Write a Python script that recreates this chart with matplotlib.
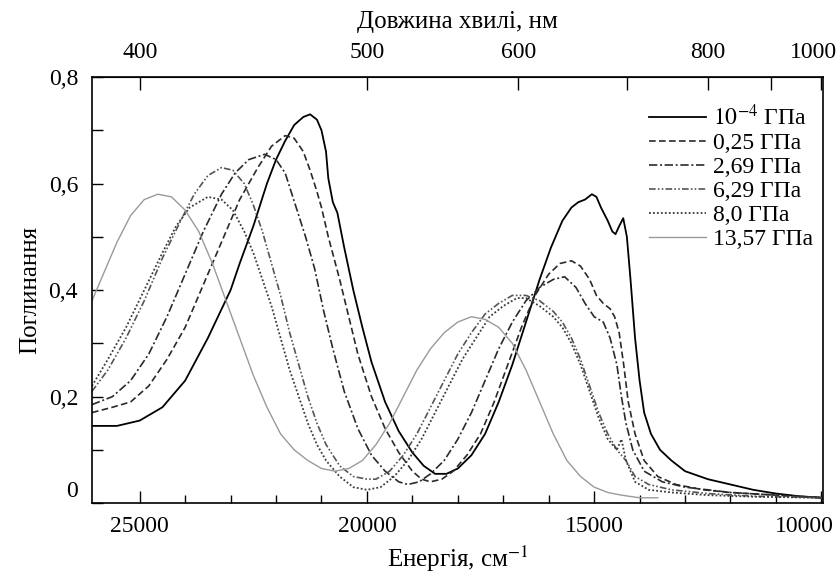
import numpy as np
import matplotlib
matplotlib.use('Agg')
import matplotlib.pyplot as plt
from matplotlib.transforms import ScaledTranslation

# Енергія (см^-1) та поглинання для кожного тиску
e_p0 = [26050, 25500, 25000, 24500, 24000, 23500, 23000, 22800, 22500, 22200,
        22000, 21800, 21600, 21400, 21250, 21100, 21000, 20900, 20850, 20750,
        20650, 20500, 20300, 20100, 19900, 19600, 19300, 19000, 18750, 18500,
        18250, 18000, 17700, 17400, 17100, 16800, 16500, 16200, 15950, 15700,
        15500, 15350, 15200, 15050, 14950, 14850, 14700, 14600, 14530, 14450,
        14360, 14280, 14200, 14100, 14000, 13900, 13750, 13550, 13300, 13000,
        12500, 12000, 11500, 11000, 10500, 9960]
a_p0 = [0.145, 0.145, 0.155, 0.18, 0.23, 0.31, 0.40, 0.45, 0.52, 0.60,
        0.645, 0.68, 0.71, 0.725, 0.73, 0.72, 0.70, 0.66, 0.61, 0.565,
        0.545, 0.48, 0.40, 0.33, 0.265, 0.19, 0.135, 0.095, 0.07, 0.055,
        0.055, 0.065, 0.09, 0.13, 0.19, 0.26, 0.34, 0.42, 0.48, 0.53,
        0.555, 0.565, 0.57, 0.58, 0.575, 0.555, 0.53, 0.51, 0.505, 0.52,
        0.535, 0.50, 0.42, 0.31, 0.23, 0.17, 0.13, 0.10, 0.08, 0.06,
        0.045, 0.035, 0.025, 0.018, 0.013, 0.01]

e_p1 = [26050, 25600, 25200, 24800, 24400, 24000, 23600, 23200, 22800, 22400,
        22100, 21800, 21600, 21400, 21250, 21100, 21000, 20850, 20600, 20400,
        20200, 19900, 19600, 19300, 19000, 18800, 18600, 18350, 18100, 17800,
        17500, 17200, 16900, 16600, 16300, 16000, 15750, 15500, 15300, 15100,
        14950, 14800, 14650, 14550, 14450, 14350, 14250, 14100, 13900, 13600,
        13200, 12600, 12000, 11000, 9960]
a_p1 = [0.17, 0.18, 0.19, 0.22, 0.27, 0.33, 0.41, 0.49, 0.57, 0.63,
        0.67, 0.69, 0.685, 0.66, 0.625, 0.585, 0.555, 0.50, 0.42, 0.35,
        0.28, 0.20, 0.14, 0.095, 0.06, 0.045, 0.04, 0.045, 0.06, 0.09,
        0.13, 0.19, 0.26, 0.33, 0.39, 0.43, 0.45, 0.455, 0.445, 0.42,
        0.39, 0.375, 0.365, 0.35, 0.32, 0.26, 0.19, 0.13, 0.08, 0.05,
        0.035, 0.025, 0.02, 0.015, 0.01]

e_p2 = [26050, 25600, 25200, 24800, 24400, 24000, 23600, 23200, 22900, 22600,
        22250, 22000, 21800, 21650, 21500, 21350, 21150, 20950, 20750, 20500,
        20200, 19900, 19600, 19300, 19100, 18850, 18600, 18300, 18000, 17700,
        17400, 17100, 16800, 16500, 16200, 15900, 15650, 15400, 15200, 15000,
        14800, 14650, 14500, 14400, 14300, 14150, 13900, 13500, 13000, 12000,
        11000, 9960]
a_p2 = [0.185, 0.20, 0.23, 0.28, 0.35, 0.43, 0.51, 0.58, 0.62, 0.645,
        0.655, 0.645, 0.62, 0.58, 0.54, 0.50, 0.44, 0.36, 0.29, 0.21,
        0.14, 0.09, 0.06, 0.04, 0.035, 0.04, 0.055, 0.08, 0.12, 0.17,
        0.23, 0.29, 0.34, 0.38, 0.405, 0.42, 0.425, 0.405, 0.375, 0.35,
        0.34, 0.31, 0.26, 0.20, 0.15, 0.10, 0.06, 0.04, 0.03, 0.02,
        0.015, 0.01]

e_p3 = [26050, 25700, 25300, 24900, 24500, 24100, 23800, 23500, 23200, 22950,
        22700, 22500, 22300, 22100, 21900, 21700, 21500, 21300, 21100, 20900,
        20600, 20300, 20000, 19800, 19500, 19200, 18900, 18600, 18300, 18000,
        17700, 17400, 17100, 16800, 16500, 16200, 15900, 15700, 15500, 15300,
        15100, 14900, 14700, 14500, 14300, 14100, 13800, 13300, 12500, 11500,
        9960]
a_p3 = [0.21, 0.25, 0.31, 0.38, 0.46, 0.53, 0.58, 0.615, 0.63, 0.625,
        0.60, 0.56, 0.51, 0.45, 0.39, 0.32, 0.26, 0.20, 0.15, 0.11,
        0.07, 0.05, 0.045, 0.045, 0.06, 0.09, 0.13, 0.18, 0.23, 0.28,
        0.32, 0.355, 0.375, 0.39, 0.39, 0.38, 0.36, 0.34, 0.31, 0.27,
        0.22, 0.17, 0.13, 0.10, 0.08, 0.05, 0.035, 0.025, 0.018, 0.013,
        0.01]

e_p4 = [26050, 25700, 25300, 24900, 24500, 24200, 23900, 23500, 23200, 22950,
        22700, 22500, 22300, 22100, 21900, 21700, 21500, 21300, 21100, 20900,
        20600, 20300, 20000, 19700, 19400, 19100, 18800, 18500, 18200, 17900,
        17600, 17300, 17000, 16700, 16500, 16200, 15900, 15700, 15500, 15300,
        15100, 14900, 14700, 14500, 14400, 14300, 14100, 13800, 13300, 12500,
        11500, 9960]
a_p4 = [0.22, 0.27, 0.33, 0.40, 0.47, 0.52, 0.555, 0.575, 0.57, 0.55,
        0.51, 0.47, 0.42, 0.37, 0.31, 0.25, 0.20, 0.15, 0.11, 0.08,
        0.05, 0.03, 0.025, 0.03, 0.05, 0.08, 0.12, 0.17, 0.22, 0.27,
        0.31, 0.35, 0.37, 0.385, 0.385, 0.37, 0.35, 0.33, 0.30, 0.26,
        0.21, 0.16, 0.12, 0.10, 0.12, 0.08, 0.04, 0.025, 0.02, 0.015,
        0.012, 0.01]

e_p5 = [26050, 25800, 25500, 25200, 24900, 24600, 24300, 24000, 23700, 23400,
        23100, 22800, 22500, 22200, 21900, 21600, 21300, 21000, 20700, 20400,
        20100, 19800, 19500, 19200, 18900, 18600, 18300, 18000, 17700, 17400,
        17100, 16800, 16500, 16200, 15900, 15600, 15300, 15000, 14700, 14400,
        14000, 13600]
a_p5 = [0.38, 0.43, 0.49, 0.54, 0.57, 0.58, 0.575, 0.55, 0.51, 0.45,
        0.38, 0.31, 0.24, 0.18, 0.13, 0.10, 0.08, 0.065, 0.06, 0.065,
        0.08, 0.11, 0.15, 0.20, 0.25, 0.29, 0.32, 0.34, 0.35, 0.345,
        0.33, 0.30, 0.25, 0.19, 0.13, 0.08, 0.05, 0.03, 0.02, 0.015,
        0.01, 0.01]

labels = ['$10^{-4}$ ГПа', '0,25 ГПа', '2,69 ГПа', '6,29 ГПа', '8,0 ГПа', '13,57 ГПа']

plt.rcParams['font.family'] = ['Liberation Serif', 'DejaVu Serif']
plt.rcParams['mathtext.fontset'] = 'stix'
plt.rcParams['font.size'] = 17

fig, ax = plt.subplots(figsize=(8.4, 5.75), dpi=100)
fig.subplots_adjust(left=0.1095, right=0.98, top=0.866, bottom=0.125)

styles = [
    dict(color='black', lw=1.3, ls='-'),
    dict(color='#2a2a2a', lw=1.2, ls=(0, (4, 2))),
    dict(color='#2a2a2a', lw=1.2, ls=(0, (5, 1.6, 1.2, 1.6))),
    dict(color='#555555', lw=1.2, ls=(0, (4, 1.3, 1, 1.3, 1, 1.3))),
    dict(color='#3a3a3a', lw=1.3, ls=(0, (1, 1.2))),
    dict(color='#9a9a9a', lw=1.0, ls='-'),
]
data = [(e_p0, a_p0), (e_p1, a_p1), (e_p2, a_p2), (e_p3, a_p3), (e_p4, a_p4), (e_p5, a_p5)]
for (e, a), lab, st in zip(data, labels, styles):
    ax.plot(e, a, label=lab, **st)

ax.set_xlim(26050, 9960)
ax.set_ylim(0, 0.8)

ax.set_xticks([25000, 20000, 15000, 10000])
ax.set_xticklabels(['25000', '20000', '15000', '10000'])
ax.set_xticks([m for m in range(11000, 25000, 1000) if m not in (20000, 15000)], minor=True)
ax.set_yticks([0, 0.2, 0.4, 0.6, 0.8])
ax.set_yticklabels(['0', '0,2', '0,4', '0,6', '0,8'])
ax.set_yticks([0.1, 0.3, 0.5, 0.7], minor=True)

ax.tick_params(axis='x', which='both', direction='in', top=False, pad=9)
ax.tick_params(axis='x', which='major', length=9, width=1)
ax.tick_params(axis='x', which='minor', length=6, width=1)
ax.tick_params(axis='y', which='both', direction='in', right=False, length=8, width=1, pad=10)
for sp in ax.spines.values():
    sp.set_linewidth(1.2)

# верхня шкала: довжина хвилі в нм
def to_nm(x):
    x = np.asarray(x, dtype=float)
    with np.errstate(divide='ignore'):
        return 1e7 / x

sec = ax.secondary_xaxis('top', functions=(to_nm, to_nm))
sec.set_xticks([400, 500, 600, 700, 800, 900, 1000])
sec.set_xticklabels(['400', '500', '600', '', '800', '', '1000'])
sec.tick_params(direction='in', length=9, width=1, pad=10)
sec.set_xlabel('Довжина хвилі, нм', fontsize=18, labelpad=10)

ax.set_xlabel('Енергія, см$^{-1}$', fontsize=18, labelpad=5)
ax.set_ylabel('Поглинання', fontsize=18)
ax.yaxis.set_label_coords(-0.07, 0.5)

# невеликі зсуви крайніх підписів
ax.get_xticklabels()[-1].set_transform(
    ax.get_xticklabels()[-1].get_transform() + ScaledTranslation(-0.17, 0, fig.dpi_scale_trans))
ax.get_yticklabels()[0].set_transform(
    ax.get_yticklabels()[0].get_transform() + ScaledTranslation(0, 0.14, fig.dpi_scale_trans))
sec.get_xticklabels()[-1].set_transform(
    sec.get_xticklabels()[-1].get_transform() + ScaledTranslation(-0.08, 0, fig.dpi_scale_trans))

ax.legend(loc='upper left', bbox_to_anchor=(0.762, 0.935), frameon=False,
          fontsize=17, handlelength=2.4, handletextpad=0.3, labelspacing=0.1,
          borderpad=0, borderaxespad=0)

fig.savefig('out.png', dpi=100)
